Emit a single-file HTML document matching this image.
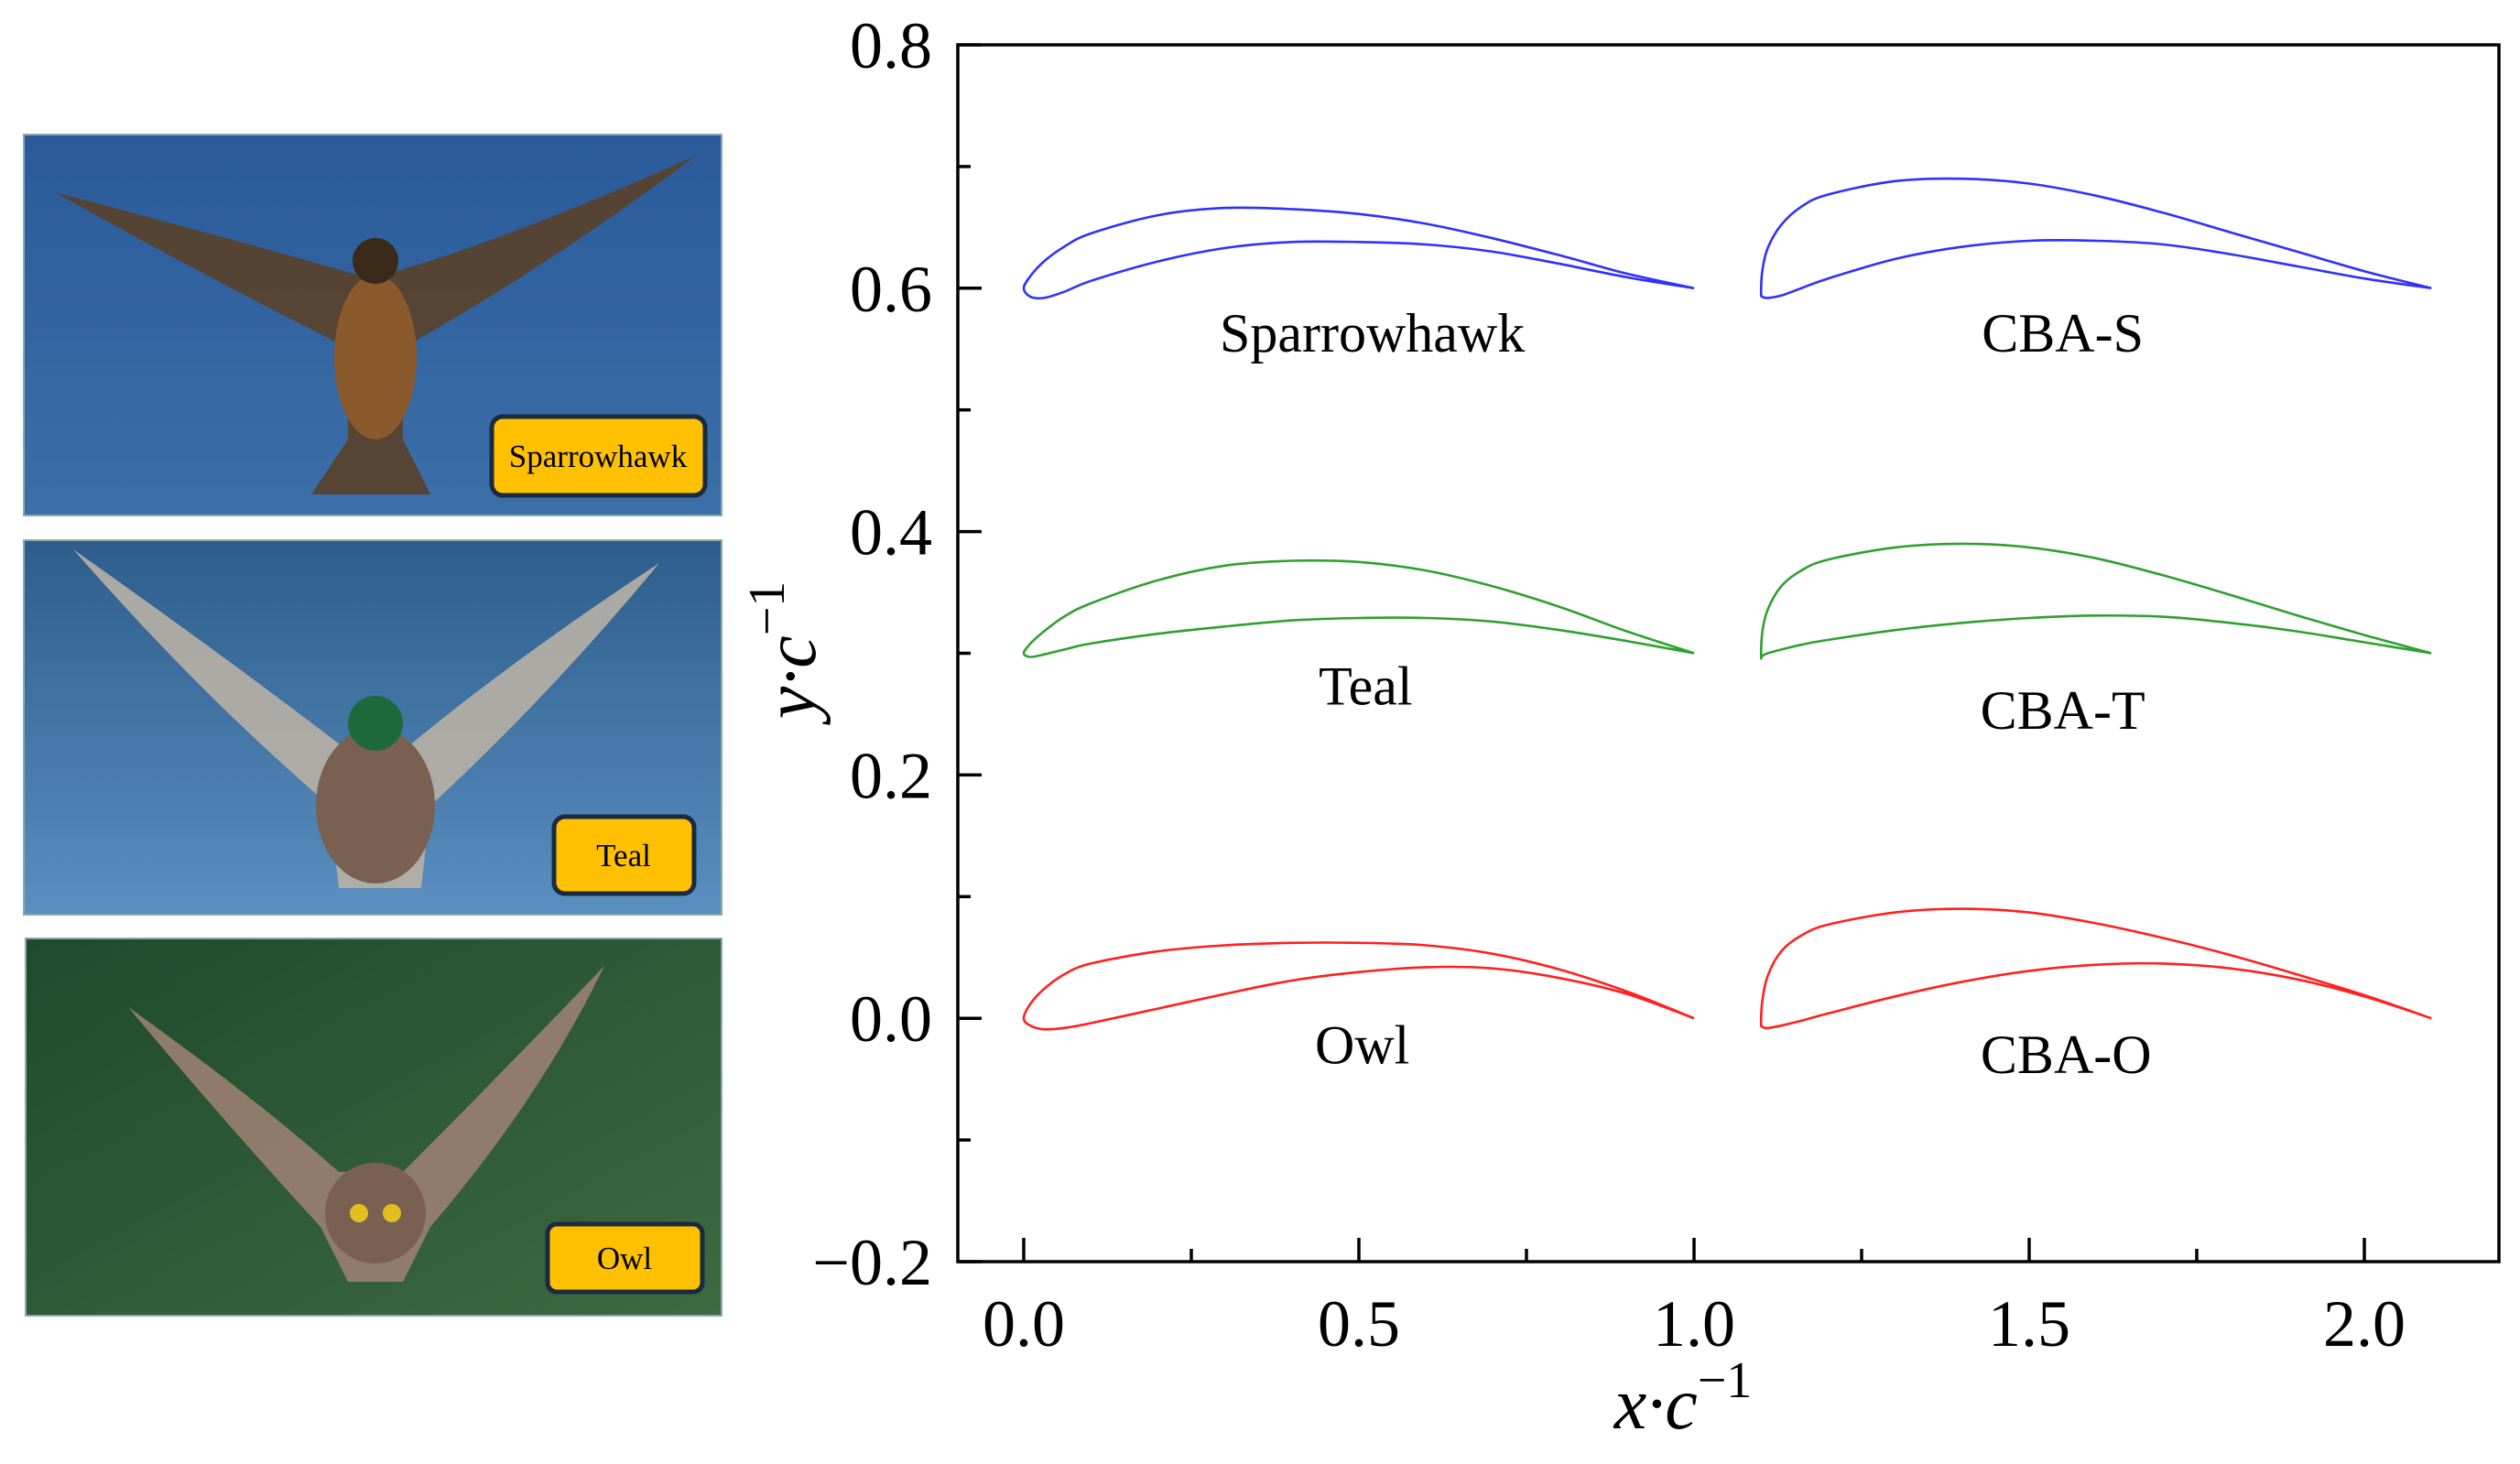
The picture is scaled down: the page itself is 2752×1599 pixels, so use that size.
<!DOCTYPE html>
<html><head><meta charset="utf-8">
<style>
html,body{margin:0;padding:0;background:#fff;}
svg{display:block;font-family:"Liberation Serif",serif;}
</style></head>
<body>
<svg id="chart" width="2752" height="1599" viewBox="0 0 2752 1599" xmlns="http://www.w3.org/2000/svg">
<defs>
<linearGradient id="skyG" x1="0" y1="0" x2="0" y2="1"><stop offset="0" stop-color="#2a5a9a"/><stop offset="1" stop-color="#3c6fa8"/></linearGradient>
<linearGradient id="waterG" x1="0" y1="0" x2="0" y2="1"><stop offset="0" stop-color="#2d5d8c"/><stop offset="1" stop-color="#5a8fc0"/></linearGradient>
<linearGradient id="forestG" x1="0" y1="0" x2="1" y2="1"><stop offset="0" stop-color="#1f4a2c"/><stop offset="1" stop-color="#3d6a40"/></linearGradient>
</defs>

<g>
<rect x="26" y="147" width="762" height="416" fill="url(#skyG)" stroke="#8aa" stroke-width="2"/>
<path d="M60 210 Q250 260 390 300 L420 300 Q560 260 760 170 Q600 290 440 380 L440 480 L470 540 L340 540 L380 480 L380 380 Q220 300 60 210Z" fill="#5a4028" opacity="0.9"/>
<ellipse cx="410" cy="390" rx="45" ry="90" fill="#8a5a2c"/>
<circle cx="410" cy="285" r="25" fill="#3a2a1a"/>
<rect x="537" y="455" width="233" height="86" rx="12" fill="#ffc000" stroke="#1a2a40" stroke-width="5"/>
<text x="653" y="510" font-size="35" text-anchor="middle" fill="#000">Sparrowhawk</text>
</g>
<g>
<rect x="26" y="590" width="762" height="409" fill="url(#waterG)" stroke="#8aa" stroke-width="2"/>
<path d="M80 600 Q250 720 380 820 L440 820 Q560 720 720 615 Q600 760 470 880 L460 970 L370 970 L360 880 Q220 760 80 600Z" fill="#b8b0a4" opacity="0.9"/>
<ellipse cx="410" cy="880" rx="65" ry="85" fill="#7a6050"/>
<circle cx="410" cy="790" r="30" fill="#1f6a3a"/>
<rect x="605" y="892" width="153" height="84" rx="12" fill="#ffc000" stroke="#1a2a40" stroke-width="5"/>
<text x="681" y="946" font-size="35" text-anchor="middle" fill="#000">Teal</text>
</g>
<g>
<rect x="28" y="1025" width="760" height="412" fill="url(#forestG)" stroke="#8aa" stroke-width="2"/>
<path d="M140 1100 Q280 1200 370 1280 L440 1280 Q540 1180 660 1055 Q590 1200 470 1340 L440 1400 L380 1400 L350 1340 Q240 1220 140 1100Z" fill="#9a8070" opacity="0.9"/>
<ellipse cx="410" cy="1325" rx="55" ry="55" fill="#7a6050"/>
<circle cx="392" cy="1325" r="10" fill="#e0c020"/><circle cx="428" cy="1325" r="10" fill="#e0c020"/>
<rect x="598" y="1337" width="169" height="74" rx="10" fill="#ffc000" stroke="#1a2a40" stroke-width="5"/>
<text x="682" y="1386" font-size="35" text-anchor="middle" fill="#000">Owl</text>
</g>

<g id="plot"></g>
</svg>
<script>
const xTicks = [0.0, 0.5, 1.0, 1.5, 2.0];
const xTickLabels = ["0.0", "0.5", "1.0", "1.5", "2.0"];
const yTicks = [-0.2, 0.0, 0.2, 0.4, 0.6, 0.8];
const yTickLabels = ["\u22120.2", "0.0", "0.2", "0.4", "0.6", "0.8"];

const birdX = [0, 0.01, 0.03, 0.06, 0.1, 0.2, 0.3, 0.4, 0.5, 0.6, 0.7, 0.8, 0.9, 1.0];
const sparrowUpper = [0.600, 0.610, 0.622, 0.634, 0.645, 0.660, 0.666, 0.665, 0.661, 0.653, 0.641, 0.627, 0.612, 0.600];
const sparrowLower = [0.600, 0.593, 0.592, 0.597, 0.606, 0.622, 0.633, 0.638, 0.638, 0.636, 0.630, 0.620, 0.609, 0.600];
const tealUpper = [0.300, 0.308, 0.318, 0.330, 0.341, 0.360, 0.372, 0.376, 0.375, 0.368, 0.355, 0.338, 0.318, 0.300];
const tealLower = [0.300, 0.297, 0.299, 0.303, 0.308, 0.316, 0.322, 0.327, 0.329, 0.329, 0.326, 0.319, 0.310, 0.300];
const owlUpper = [0.000, 0.012, 0.024, 0.036, 0.045, 0.055, 0.060, 0.062, 0.062, 0.060, 0.053, 0.040, 0.022, 0.000];
const owlLower = [0.000, -0.006, -0.009, -0.008, -0.004, 0.008, 0.020, 0.031, 0.038, 0.042, 0.041, 0.033, 0.020, 0.000];

const cbaX = [1.1, 1.102, 1.11, 1.13, 1.16, 1.2, 1.3, 1.4, 1.5, 1.6, 1.7, 1.8, 1.9, 2.0, 2.1];
const cbaSUpper = [0.596, 0.615, 0.633, 0.652, 0.667, 0.677, 0.688, 0.690, 0.686, 0.676, 0.662, 0.646, 0.630, 0.614, 0.600];
const cbaSLower = [0.596, 0.593, 0.592, 0.594, 0.600, 0.608, 0.624, 0.634, 0.639, 0.639, 0.636, 0.628, 0.618, 0.608, 0.600];
const cbaTUpper = [0.297, 0.318, 0.336, 0.355, 0.368, 0.377, 0.387, 0.390, 0.387, 0.378, 0.364, 0.348, 0.331, 0.315, 0.300];
const cbaTLower = [0.297, 0.298, 0.300, 0.303, 0.307, 0.311, 0.319, 0.325, 0.329, 0.331, 0.330, 0.325, 0.318, 0.309, 0.300];
const cbaOUpper = [-0.004, 0.015, 0.035, 0.055, 0.068, 0.077, 0.087, 0.090, 0.087, 0.078, 0.066, 0.052, 0.036, 0.019, 0.000];
const cbaOLower = [-0.004, -0.007, -0.008, -0.006, -0.002, 0.004, 0.018, 0.030, 0.039, 0.044, 0.045, 0.041, 0.032, 0.018, 0.000];

const foils = [
  {name:"sparrowhawk", xs:birdX, up:sparrowUpper, lo:sparrowLower, color:"#3030ff"},
  {name:"teal", xs:birdX, up:tealUpper, lo:tealLower, color:"#30a030"},
  {name:"owl", xs:birdX, up:owlUpper, lo:owlLower, color:"#ff2020"},
  {name:"cba-s", xs:cbaX, up:cbaSUpper, lo:cbaSLower, color:"#3030ff"},
  {name:"cba-t", xs:cbaX, up:cbaTUpper, lo:cbaTLower, color:"#30a030"},
  {name:"cba-o", xs:cbaX, up:cbaOUpper, lo:cbaOLower, color:"#ff2020"}
];
const foilLabels = ["Sparrowhawk", "Teal", "Owl", "CBA-S", "CBA-T", "CBA-O"];
const labelX = [0.52, 0.51, 0.505, 1.55, 1.55, 1.555];
const labelY = [0.548, 0.258, -0.037, 0.548, 0.238, -0.045];

const NS = "http://www.w3.org/2000/svg";
const L = 1046, R = 2729, T = 49, B = 1378;
const X0 = 1118, X2 = 2582;
function sx(v){ return X0 + (v - 0) * (X2 - X0) / 2.0; }
function sy(v){ return B - (v + 0.2) * (B - T) / 1.0; }
const plot = document.getElementById('plot');
function mk(tag, attrs){ const e = document.createElementNS(NS, tag); for (const k in attrs) e.setAttribute(k, attrs[k]); plot.appendChild(e); return e; }

let fr = mk('rect', {x:L, y:T, width:R-L, height:B-T, fill:'none', stroke:'#000', 'stroke-width':3.5});



for (let i = 0; i < xTicks.length; i++) {
  const x = sx(xTicks[i]);
  let t = mk('line', {x1:x, x2:x, y1:B, y2:B-26, stroke:'#000', 'stroke-width':3.5});
  
  
  let lb = mk('text', {x:x, y:B+92, 'font-size':72, 'text-anchor':'middle'});
  lb.textContent = xTickLabels[i];
  
  
  if (i < xTicks.length - 1) {
    const xm = sx(xTicks[i] + 0.25);
    let m = mk('line', {x1:xm, x2:xm, y1:B, y2:B-14, stroke:'#000', 'stroke-width':3.5});
    
    
  }
}
for (let i = 0; i < yTicks.length; i++) {
  const y = sy(yTicks[i]);
  let t = mk('line', {x1:L, x2:L+26, y1:y, y2:y, stroke:'#000', 'stroke-width':3.5});
  
  
  let lb = mk('text', {x:L-28, y:y+25, 'font-size':72, 'text-anchor':'end'});
  lb.textContent = yTickLabels[i];
  
  
  if (i < yTicks.length - 1) {
    const ym = sy(yTicks[i] + 0.1);
    let m = mk('line', {x1:L, x2:L+14, y1:ym, y2:ym, stroke:'#000', 'stroke-width':3.5});
    
    
  }
}

function smoothPath(pts){
  let d = 'M' + pts[0][0].toFixed(1) + ' ' + pts[0][1].toFixed(1);
  for (let i = 0; i < pts.length - 1; i++) {
    const p0 = pts[Math.max(0, i-1)], p1 = pts[i], p2 = pts[i+1], p3 = pts[Math.min(pts.length-1, i+2)];
    const c1x = p1[0] + (p2[0]-p0[0])/6, c1y = p1[1] + (p2[1]-p0[1])/6;
    const c2x = p2[0] - (p3[0]-p1[0])/6, c2y = p2[1] - (p3[1]-p1[1])/6;
    d += 'C' + c1x.toFixed(1)+' '+c1y.toFixed(1)+' '+c2x.toFixed(1)+' '+c2y.toFixed(1)+' '+p2[0].toFixed(1)+' '+p2[1].toFixed(1);
  }
  return d;
}

foils.forEach(f => {
  const pts = [];
  for (let i = f.xs.length - 1; i >= 0; i--) pts.push([sx(f.xs[i]), sy(f.up[i])]);
  for (let i = 1; i < f.xs.length; i++) pts.push([sx(f.xs[i]), sy(f.lo[i])]);
  let p = mk('path', {d:smoothPath(pts), fill:'none', stroke:f.color, 'stroke-width':2.6, 'stroke-linejoin':'round'});
  
  
});

for (let i = 0; i < foilLabels.length; i++) {
  let t = mk('text', {x:sx(labelX[i]), y:sy(labelY[i]), 'font-size':60, 'text-anchor':'middle'});
  t.textContent = foilLabels[i];
  
  
}

let xt = mk('text', {x:1838, y:1560, 'font-size':80, 'text-anchor':'middle', 'font-style':'italic'});
xt.innerHTML = 'x\u00b7c<tspan dy="-34" font-size="56" font-style="normal">\u22121</tspan>';


let yt = mk('text', {x:0, y:0, 'font-size':80, 'text-anchor':'middle', 'font-style':'italic', transform:'translate(890,710) rotate(-90)'});
yt.innerHTML = 'y\u00b7c<tspan dy="-34" font-size="56" font-style="normal">\u22121</tspan>';


</script>
</body></html>
